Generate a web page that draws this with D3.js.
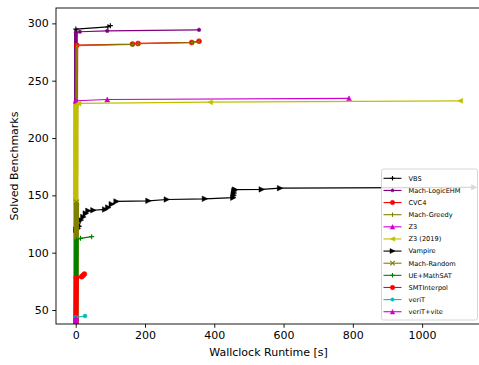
<!DOCTYPE html>
<html>
<head>
<meta charset="utf-8">
<script src="https://cdn.jsdelivr.net/npm/d3@7"></script>
<style>
  html, body { margin: 0; padding: 0; background: #fff; }
  svg { display: block; }
  text { font-family: "DejaVu Sans", sans-serif; fill: #000; }
</style>
</head>
<body>
<svg id="chart" width="479" height="365"></svg>
<script>
// ---- data: [runtime (s), solved benchmarks] ----
const seriesNames = ["VBS", "Mach-LogicEHM", "CVC4", "Mach-Greedy", "Z3", "Z3 (2019)",
  "Vampire", "Mach-Random", "UE+MathSAT", "SMTInterpol", "veriT", "veriT+vite"];
const vbsData = [[0.1, 1], [0.5, 295], [93, 297], [100, 298]];
const logicEhmData = [[0.1, 1], [0.5, 292], [12, 292.7], [91, 293.5], [356, 294.4]];
const cvc4Data = [[0.1, 1], [3, 281], [164, 281.9], [180, 282.5], [335, 283.4], [356, 284.5]];
const greedyData = [[0.1, 1], [3, 280.5], [165, 281.6], [180, 282.2], [336, 283.2], [356, 284.1]];
const z3Data = [[0.1, 1], [0.5, 232.5], [91, 233.6], [789, 234.6]];
const z3_2019Data = [[0.1, 1], [1, 229], [8, 230.2], [388, 231.3], [1110, 232.4]];
const vampireData = [[0.1, 1], [2, 120], [6, 121], [9.5, 123], [15, 128.4], [22, 131.2], [29, 134.2],
  [36.5, 136.5], [51, 137], [85, 137.7], [94, 139.4], [104, 142.3], [118, 144.7], [210, 145.2],
  [263, 146.4], [373, 147], [455, 148], [456, 150], [457, 152], [458, 154], [460, 155],
  [537, 155.2], [590, 156.3], [1150, 157]];
const randomData = [[0.1, 1], [2.5, 144]];
const mathsatData = [[0.1, 1], [2, 111], [14, 112.5], [46, 114]];
const smtInterpolData = [[0.1, 1], [2, 78], [17, 79.1], [21, 80.2], [25, 81.3]];
const veritData = [[0.1, 1], [0.3, 43.6], [27, 44.8]];
const veritViteData = [[0.1, 1], [0.5, 43]];
const allData = [vbsData, logicEhmData, cvc4Data, greedyData, z3Data, z3_2019Data,
  vampireData, randomData, mathsatData, smtInterpolData, veritData, veritViteData];

const xTicks = [0, 200, 400, 600, 800, 1000];
const yTicks = [50, 100, 150, 200, 250, 300];
const xDomain = [-56.9, 1170];
const yDomain = [37.8, 313.4];

// ---- styles ----
const colors = ["#000000", "#800080", "#ff0000", "#808000", "#cc00cc", "#bfbf00",
  "#000000", "#808000", "#008000", "#ff0000", "#00bfbf", "#cc00cc"];
const markers = ["+", "p", "o", "|", "^", "<", ">", "x", "+", "o", "o", "^"];
const markerSize = [5, 4, 5, 5, 5, 5, 5.5, 5, 5, 5, 4, 5];
const bandWidth = [3, 3.5, 3, 2.5, 4.5, 5, 2, 5, 4.5, 5, 4, 5];

const svg = d3.select("#chart");
const M = { left: 56, right: 481, top: 8, bottom: 324 };
const x = d3.scaleLinear().domain(xDomain).range([M.left, M.right]);
const y = d3.scaleLinear().domain(yDomain).range([M.bottom, M.top]);

svg.append("defs").append("clipPath").attr("id", "clip")
  .append("rect").attr("x", M.left).attr("y", M.top)
  .attr("width", M.right - M.left).attr("height", M.bottom - M.top);

function markerPath(type, s) {
  const h = s / 2;
  switch (type) {
    case "o": return `M${h},0A${h},${h} 0 1,1 ${-h},0A${h},${h} 0 1,1 ${h},0Z`;
    case "^": return `M0,${-h}L${h},${h}L${-h},${h}Z`;
    case "<": return `M${-h},0L${h},${-h}L${h},${h}Z`;
    case ">": return `M${h},0L${-h},${-h}L${-h},${h}Z`;
    case "p": {
      let p = "";
      for (let i = 0; i < 5; i++) {
        const a = -Math.PI / 2 + i * 2 * Math.PI / 5;
        p += (i ? "L" : "M") + (h * Math.cos(a)).toFixed(2) + "," + (h * Math.sin(a)).toFixed(2);
      }
      return p + "Z";
    }
    case "+": return `M${-h},0L${h},0M0,${-h}L0,${h}`;
    case "x": return `M${-h},${-h}L${h},${h}M${-h},${h}L${h},${-h}`;
    case "|": return `M0,${-h}L0,${h}`;
  }
}
function drawMarker(g, type, s, color, px, py) {
  const filled = ["o", "^", "<", ">", "p"].includes(type);
  g.append("path").attr("d", markerPath(type, s))
    .attr("transform", `translate(${px},${py})`)
    .attr("fill", filled ? color : "none")
    .attr("stroke", color)
    .attr("stroke-width", filled ? 0.5 : 1.1);
}

// ---- plot ----
const plot = svg.append("g").attr("clip-path", "url(#clip)");
const line = d3.line().x(d => x(d[0])).y(d => y(d[1]));
allData.forEach((data, i) => {
  const g = plot.append("g");
  // dense run of solved instances near zero runtime
  g.append("path").attr("d", line(data.slice(0, 2)))
    .attr("fill", "none").attr("stroke", colors[i]).attr("stroke-width", bandWidth[i]);
  g.append("path").attr("d", line(data))
    .attr("fill", "none").attr("stroke", colors[i]).attr("stroke-width", 1.2)
    .attr("stroke-linejoin", "round");
  data.slice(1).forEach(d => drawMarker(g, markers[i], markerSize[i], colors[i], x(d[0]), y(d[1])));
});

// ---- axes ----
const xAxis = svg.append("g").attr("transform", `translate(0,${M.bottom})`)
  .call(d3.axisBottom(x).tickValues(xTicks).tickSize(3.8).tickPadding(3.5).tickFormat(d3.format("d")));
const yAxis = svg.append("g").attr("transform", `translate(${M.left},0)`)
  .call(d3.axisLeft(y).tickValues(yTicks).tickSize(3.8).tickPadding(3.5).tickFormat(d3.format("d")));
[xAxis, yAxis].forEach(a => {
  a.select(".domain").remove();
  a.selectAll("text").attr("font-family", "DejaVu Sans").attr("font-size", 11).attr("fill", "#000");
  a.selectAll("line").attr("stroke", "#000").attr("stroke-width", 0.9);
});
svg.append("rect").attr("x", M.left).attr("y", M.top)
  .attr("width", M.right - M.left).attr("height", M.bottom - M.top)
  .attr("fill", "none").attr("stroke", "#000").attr("stroke-width", 0.9);

svg.append("text").attr("x", (M.left + M.right) / 2).attr("y", 356)
  .attr("text-anchor", "middle").attr("font-size", 11).text("Wallclock Runtime [s]");
svg.append("text").attr("transform", `translate(18,${(M.top + M.bottom) / 2}) rotate(-90)`)
  .attr("text-anchor", "middle").attr("font-size", 11).text("Solved Benchmarks");

// ---- legend ----
const leg = svg.append("g");
leg.append("rect").attr("x", 381.5).attr("y", 169).attr("width", 96).attr("height", 151)
  .attr("rx", 2).attr("fill", "#fff").attr("fill-opacity", 0.85)
  .attr("stroke", "#cccccc").attr("stroke-width", 0.8);
seriesNames.forEach((name, i) => {
  const ly = 178.3 + i * 12.13;
  leg.append("line").attr("x1", 383.5).attr("x2", 401.5).attr("y1", ly).attr("y2", ly)
    .attr("stroke", colors[i]).attr("stroke-width", 1.1);
  drawMarker(leg, markers[i], markerSize[i] - 0.5, colors[i], 392.5, ly);
  leg.append("text").attr("x", 408.5).attr("y", ly + 2.4).attr("font-size", 6.6).text(name);
});
</script>
</body>
</html>
